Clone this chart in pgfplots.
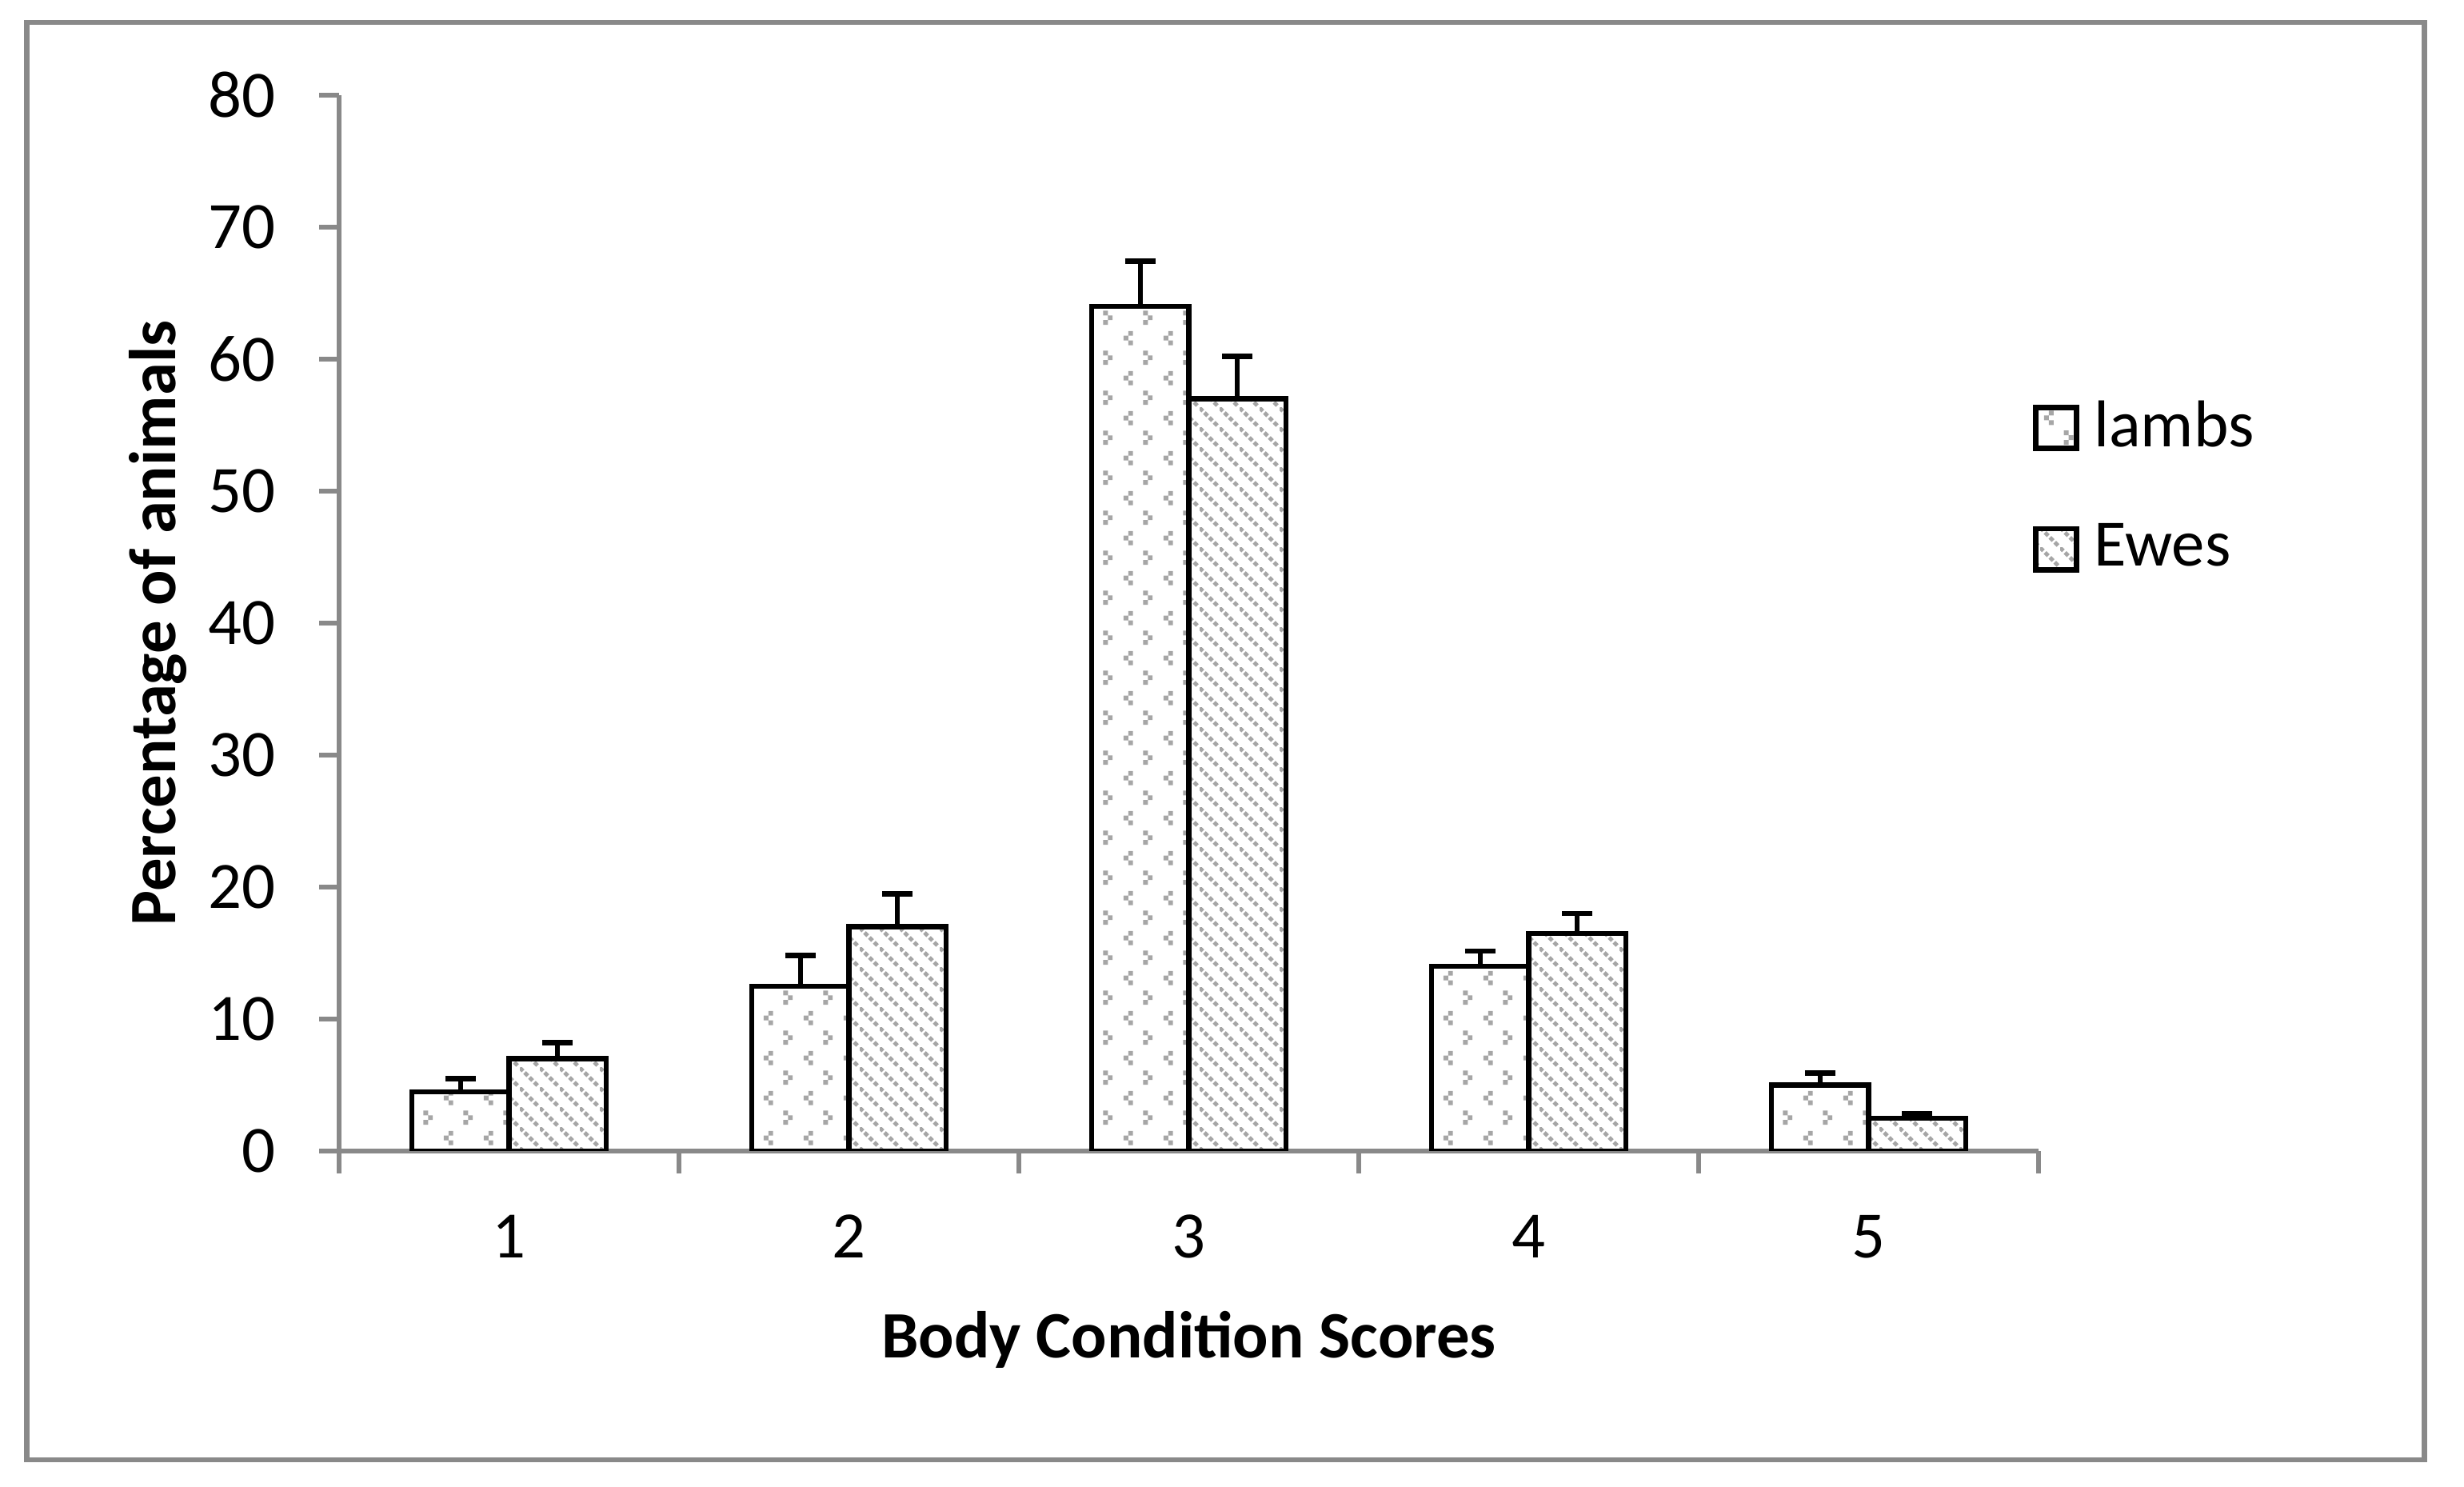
\documentclass[border=0pt]{standalone}
\usepackage{fontspec}
\setmainfont{Carlito}
\usepackage{pgfplots}
\pgfplotsset{compat=1.18}
\usepackage{pgfplotstable}
\usetikzlibrary{patterns}

\definecolor{axgray}{HTML}{898989}
\definecolor{patgray}{HTML}{A6A6A6}

\pgfdeclarepatternformonly{lambdots}{\pgfqpoint{0pt}{0pt}}{\pgfqpoint{7.25pt}{7.25pt}}{\pgfqpoint{7.25pt}{7.25pt}}{%
  \pgfpathrectangle{\pgfqpoint{1.6pt}{5.8pt}}{\pgfqpoint{0.87pt}{0.87pt}}%
  \pgfpathrectangle{\pgfqpoint{0.73pt}{4.93pt}}{\pgfqpoint{0.87pt}{0.87pt}}%
  \pgfpathrectangle{\pgfqpoint{1.6pt}{4.06pt}}{\pgfqpoint{0.87pt}{0.87pt}}%
  \pgfpathrectangle{\pgfqpoint{4.35pt}{2.17pt}}{\pgfqpoint{0.87pt}{0.87pt}}%
  \pgfpathrectangle{\pgfqpoint{5.22pt}{1.3pt}}{\pgfqpoint{0.87pt}{0.87pt}}%
  \pgfpathrectangle{\pgfqpoint{4.35pt}{0.43pt}}{\pgfqpoint{0.87pt}{0.87pt}}%
  \pgfusepath{fill}%
}
\pgfdeclarepatternformonly{ewelines}{\pgfqpoint{0pt}{0pt}}{\pgfqpoint{3.625pt}{3.625pt}}{\pgfqpoint{3.625pt}{3.625pt}}{%
  \pgfsetlinewidth{0.75pt}%
  \pgfsetdash{{0.85pt}{0.432pt}}{0pt}%
  \pgfpathmoveto{\pgfqpoint{0pt}{3.625pt}}%
  \pgfpathlineto{\pgfqpoint{3.625pt}{0pt}}%
  \pgfusepath{stroke}%
}

\pgfplotstableread{
x  l     le    e     ee
1  4.5   1.0   7.0   1.2
2  12.5  2.3   17.0  2.5
3  64.0  3.4   57.0  3.2
4  14.0  1.15  16.5  1.5
5  5.0   0.9   2.5   0.3
}\bcsdata

\begin{document}
\begin{tikzpicture}
\path[use as bounding box] (0,0) rectangle (446.52pt,269.42pt);
\draw[axgray, line width=1pt] (4.86pt,4.93pt) rectangle (439.4pt,265.36pt);
\begin{axis}[
  at={(61.45pt,60.87pt)}, anchor=south west,
  scale only axis, width=307.97pt, height=191.3pt,
  xmin=0.5, xmax=5.5, ymin=0, ymax=80,
  font=\fontsize{12}{14.4}\selectfont,
  /pgf/number format/assume math mode=true,
  axis x line*=bottom, axis y line*=left,
  axis line style={axgray, line width=1pt},
  tick align=outside,
  xtick={1,2,3,4,5}, xticklabels={1,2,3,4,5},
  major x tick style={draw=none},
  minor xtick={0.5,1.5,2.5,3.5,4.5,5.5},
  minor tick length=4pt,
  minor x tick style={axgray, line width=1pt},
  ytick={0,10,20,30,40,50,60,70,80},
  major tick length=3.6pt,
  y tick style={axgray, line width=1pt},
  xticklabel style={anchor=base, inner sep=0pt, yshift=-15.8pt},
  yticklabel style={anchor=east, inner sep=0pt, xshift=-7.7pt},
  xlabel={\textbf{Body Condition Scores}},
  xlabel style={at={(axis description cs:0.5,-0.196)}, anchor=base, inner sep=0pt},
  ylabel={\textbf{Percentage of animals}},
  ylabel style={at={(axis description cs:-0.1068,0.5)}, anchor=center, inner sep=0pt},
  ybar=0pt, bar width=0.2857,
  legend style={at={(axis description cs:0.9962,0.6284)}, anchor=west, draw=none, fill=none,
    inner sep=0pt, row sep=12.5pt, column sep=2.6pt, nodes={inner sep=0pt}},
  legend cell align=left,
  legend image code/.code={\draw[#1, line width=1pt] (0pt,-3.7pt) rectangle (7.4pt,3.7pt);},
]
\addplot[draw=black, line width=0.9pt, pattern=lambdots, pattern color=patgray, bar shift=-0.14285,
  error bars/.cd, y dir=plus, y explicit,
  error bar style={black, line width=0.9pt, solid},
  error mark options={rotate=90, black, line width=1pt, mark size=2.75pt}]
  table[x=x, y=l, y error=le]{\bcsdata};
\addlegendentry{lambs}
\addplot[draw=black, line width=0.9pt, pattern=ewelines, pattern color=patgray, bar shift=0.14285,
  error bars/.cd, y dir=plus, y explicit,
  error bar style={black, line width=0.9pt, solid},
  error mark options={rotate=90, black, line width=1pt, mark size=2.75pt}]
  table[x=x, y=e, y error=ee]{\bcsdata};
\addlegendentry{Ewes}
\end{axis}
\end{tikzpicture}
\end{document}
